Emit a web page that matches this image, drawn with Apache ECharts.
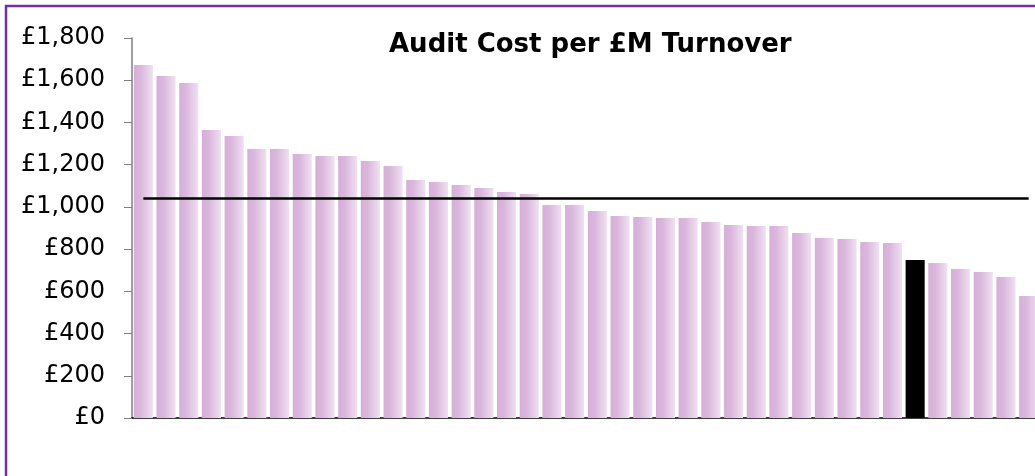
<!DOCTYPE html>
<html>
<head>
<meta charset="utf-8">
<script src="https://cdn.jsdelivr.net/npm/echarts@6/dist/echarts.min.js"></script>
<style>
html,body{margin:0;padding:0;background:#fff;overflow:hidden;}
#chart{width:1100px;height:476px;}
</style>
</head>
<body>
<div id="chart"></div>
<script>
const titleText = 'Audit Cost per £M Turnover';
const costValues = [1672,1620,1587,1364,1336,1274,1274,1250,1241,1241,
                    1217,1194,1127,1118,1104,1089,1071,1061,1009,1009,
                    981,957,952,947,947,928,914,909,909,876,
                    853,848,834,829,748,734,706,692,668,578];
const categories = costValues.map((v, i) => 'Body ' + (i + 1));
const highlightIndex = 34;
const averageValue = 1040;
const yTicks = [0,200,400,600,800,1000,1200,1400,1600,1800];

const barGradient = new echarts.graphic.LinearGradient(0, 0, 1, 0, [
  {offset: 0, color: '#d6afd8'},
  {offset: 0.35, color: '#dab6dc'},
  {offset: 1, color: '#efe1f1'}
]);

const chart = echarts.init(document.getElementById('chart'), null, {renderer: 'canvas'});
chart.setOption({
  animation: false,
  backgroundColor: '#ffffff',
  title: {
    text: titleText,
    left: 389,
    top: 32,
    padding: 0,
    textStyle: {fontFamily: 'DejaVu Sans', fontWeight: 'bold', fontSize: 26, color: '#000'}
  },
  graphic: [{
    type: 'rect',
    shape: {x: 6, y: 6, width: 1200, height: 1000},
    style: {fill: 'none', stroke: '#7030a0', lineWidth: 2.5},
    silent: true,
    z: 100
  }],
  grid: {left: 132, top: 38, width: 908, height: 380},
  xAxis: {
    type: 'category',
    data: categories,
    axisLine: {show: true, lineStyle: {color: '#000', width: 1.5}},
    axisTick: {show: false},
    axisLabel: {show: false}
  },
  yAxis: {
    type: 'value',
    min: yTicks[0],
    max: yTicks[yTicks.length - 1],
    interval: yTicks[1] - yTicks[0],
    axisLine: {show: true, lineStyle: {color: '#7f7f7f', width: 1.5}},
    axisTick: {show: true, length: 8, lineStyle: {color: '#7f7f7f', width: 1}},
    splitLine: {show: false},
    axisLabel: {
      margin: 27,
      fontFamily: 'DejaVu Sans',
      fontSize: 24,
      color: '#000',
      formatter: v => '£' + v.toLocaleString('en-GB')
    }
  },
  series: [{
    type: 'bar',
    barCategoryGap: '16%',
    data: costValues.map((v, i) => i === highlightIndex
      ? {value: v, itemStyle: {color: '#000'}}
      : {value: v, itemStyle: {color: barGradient}}),
    markLine: {
      silent: true,
      symbol: 'none',
      label: {show: false},
      lineStyle: {color: '#000', width: 2.5, type: 'solid'},
      data: [[
        {coord: [categories[0], averageValue]},
        {coord: [categories[categories.length - 1], averageValue]}
      ]]
    }
  }]
});
</script>
</body>
</html>
